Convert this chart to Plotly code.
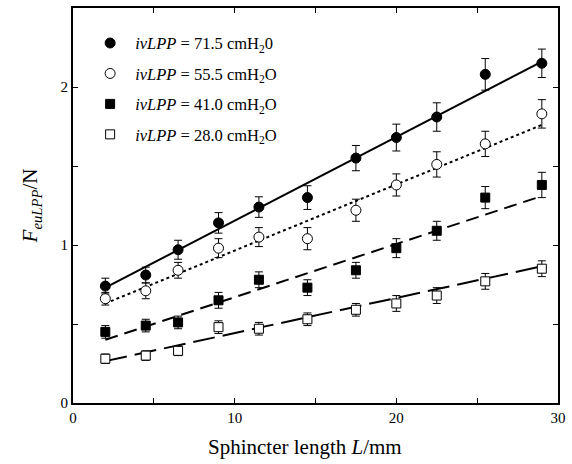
import plotly.graph_objects as go

# ---- data ----
length_mm = [2, 4.5, 6.5, 9, 11.5, 14.5, 17.5, 20, 22.5, 25.5, 29]

f_715 = [0.74, 0.81, 0.97, 1.14, 1.24, 1.30, 1.55, 1.68, 1.81, 2.08, 2.15]
e_715 = [0.05, 0.05, 0.06, 0.065, 0.065, 0.075, 0.08, 0.085, 0.09, 0.10, 0.09]

f_555 = [0.66, 0.71, 0.84, 0.98, 1.05, 1.04, 1.22, 1.38, 1.51, 1.64, 1.83]
e_555 = [0.04, 0.05, 0.05, 0.06, 0.06, 0.07, 0.07, 0.07, 0.08, 0.08, 0.09]

f_410 = [0.45, 0.49, 0.51, 0.65, 0.78, 0.73, 0.84, 0.98, 1.09, 1.30, 1.38]
e_410 = [0.04, 0.04, 0.04, 0.05, 0.05, 0.05, 0.05, 0.06, 0.06, 0.07, 0.08]

f_280 = [0.28, 0.30, 0.33, 0.48, 0.47, 0.53, 0.59, 0.63, 0.68, 0.77, 0.85]
e_280 = [0.03, 0.03, 0.03, 0.04, 0.04, 0.04, 0.04, 0.05, 0.05, 0.05, 0.05]

# fitted lines (values at the ends of the fit range)
fit_x = [2, 29]
fit_715 = [0.73, 2.16]
fit_555 = [0.63, 1.76]
fit_410 = [0.40, 1.31]
fit_280 = [0.265, 0.865]

legend_labels = [
    "<i>ivLPP</i> = 71.5 cmH<sub>2</sub>0",
    "<i>ivLPP</i> = 55.5 cmH<sub>2</sub>O",
    "<i>ivLPP</i> = 41.0 cmH<sub>2</sub>O",
    "<i>ivLPP</i> = 28.0 cmH<sub>2</sub>O",
]

x_ticks = [0, 5, 10, 15, 20, 25, 30]
x_ticktext = ["0", "", "10", "", "20", "", "30"]
y_ticks = [0, 0.5, 1, 1.5, 2]
y_ticktext = ["0", "", "1", "", "2"]

FONT = "Liberation Serif, Times New Roman, serif"

fig = go.Figure()

# fit lines
for yv, dash in [(fit_715, "solid"), (fit_555, "dot"), (fit_410, "13px,7px"), (fit_280, "22px,8px")]:
    fig.add_trace(go.Scatter(x=fit_x, y=yv, mode="lines",
                             line=dict(color="black", width=2, dash=dash),
                             showlegend=False, hoverinfo="skip"))

series = [
    (f_715, e_715, "circle", "black", 10),
    (f_555, e_555, "circle", "white", 10),
    (f_410, e_410, "square", "black", 9),
    (f_280, e_280, "square", "white", 9),
]
for i, (yv, ev, sym, fill, sz) in enumerate(series):
    fig.add_trace(go.Scatter(
        x=length_mm, y=yv, mode="markers", name=legend_labels[i],
        legendgroup=f"g{i}",
        marker=dict(symbol=sym, color=fill, size=sz, line=dict(color="black", width=1)),
        error_y=dict(type="data", array=ev, visible=True, color="black", thickness=1, width=4),
    ))

axis_common = dict(
    showline=True, linewidth=2, linecolor="black", mirror="ticks",
    ticks="inside", ticklen=5, tickwidth=1, tickcolor="black",
    showgrid=False, zeroline=False,
    tickfont=dict(family=FONT, size=15, color="black"),
)

fig.update_layout(
    width=572, height=464, autosize=False,
    margin=dict(l=73, r=6, t=7, b=61),
    plot_bgcolor="white", paper_bgcolor="white",
    font=dict(family=FONT, color="black"),
    xaxis=dict(range=[0, 30], tickvals=x_ticks, ticktext=x_ticktext, **axis_common),
    yaxis=dict(range=[0, 2.5], tickvals=y_ticks, ticktext=y_ticktext,
               title=dict(text="<i>F</i><sub><i>euLPP</i></sub>/N",
                          font=dict(family=FONT, size=21), standoff=17),
               **axis_common),
    legend=dict(x=0.025, y=0.955, xanchor="left", yanchor="top",
                bgcolor="rgba(0,0,0,0)", font=dict(family=FONT, size=16.5),
                traceorder="grouped", tracegroupgap=6, itemwidth=40),
    annotations=[dict(text="Sphincter length <i>L</i>/mm", xref="paper", yref="paper",
                      x=0.479, y=-0.111, xanchor="center", yanchor="middle",
                      showarrow=False, font=dict(family=FONT, size=21, color="black"))],
)

fig.write_html("out.html", config={"displayModeBar": False},
               post_script="document.body.style.margin='0';")
